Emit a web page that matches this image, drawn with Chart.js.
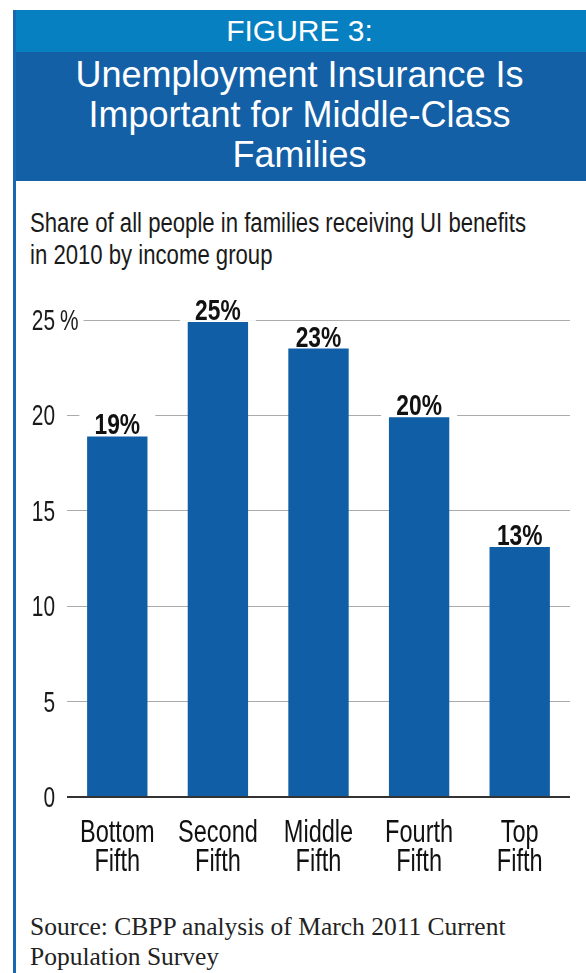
<!DOCTYPE html>
<html>
<head>
<meta charset="utf-8">
<title>Figure 3</title>
<script src="https://cdn.jsdelivr.net/npm/chart.js@4"></script>
<style>
  body { margin: 0; background: #fff; }
  #page { position: relative; width: 586px; height: 973px; overflow: hidden; }
  .abs { position: absolute; }
  #edge { left: 13px; top: 10px; width: 3px; height: 963px; background: #1a66b0; }
  #band1 { left: 13px; top: 10px; width: 573px; height: 42px; background: #0780c2; }
  #band2 { left: 13px; top: 52px; width: 573px; height: 129px; background: #1460a6; }
  #fig { left: 13px; top: 10px; width: 573px; text-align: center; color: #fff;
         font: 30px/42px "Liberation Sans", Arial, sans-serif; }
  #title { left: 13px; top: 55px; width: 573px; text-align: center; color: #fff;
           font: 36px/40px "Liberation Sans", Arial, sans-serif; }
  #sub { left: 30px; top: 207px; color: #1a1a1a; white-space: nowrap;
         transform: scaleX(0.82); transform-origin: 0 0;
         font: 27px/32px "Liberation Sans", Arial, sans-serif; }
  #src { left: 30px; top: 912px; color: #222; white-space: nowrap;
         font: 25.5px/30px "Liberation Serif", serif; }
  #wrap { left: 0; top: 280px; width: 586px; height: 600px; }
</style>
</head>
<body>
<div id="page">
  <div class="abs" id="band1"></div>
  <div class="abs" id="band2"></div>
  <div class="abs" id="edge"></div>
  <div class="abs" id="fig">FIGURE 3:</div>
  <div class="abs" id="title">Unemployment Insurance Is<br>Important for Middle-Class<br>Families</div>
  <div class="abs" id="sub">Share of all people in families receiving UI benefits<br>in 2010 by income group</div>
  <div class="abs" id="wrap"><canvas id="chart" width="586" height="600"></canvas></div>
  <div class="abs" id="src">Source: CBPP analysis of March 2011 Current<br>Population Survey</div>
</div>

<script>
  // data
  var categories = [['Bottom', 'Fifth'], ['Second', 'Fifth'], ['Middle', 'Fifth'], ['Fourth', 'Fifth'], ['Top', 'Fifth']];
  var shares = [18.9, 24.9, 23.5, 19.9, 13.1];
  var shareLabels = ['19%', '25%', '23%', '20%', '13%'];
  var yTickValues = [0, 5, 10, 15, 20, 25];
  var yTickLabels = ['0', '5', '10', '15', '20', '25%'];

  var sans = '"Liberation Sans", Arial, sans-serif';

  // no condensed face installed, so squeeze the text horizontally
  function squeezed(ctx, text, x, y, align, sx) {
    ctx.save();
    ctx.translate(x, y);
    ctx.scale(sx, 1);
    ctx.textAlign = align;
    ctx.fillText(text, 0, 0);
    ctx.restore();
  }

  // y axis labels: number right aligned, "%" hanging to the right
  var yLabels = {
    id: 'yLabels',
    afterDatasetsDraw: function (chart) {
      var ctx = chart.ctx, y = chart.scales.y, sx = 0.72;
      ctx.save();
      ctx.font = '29px ' + sans;
      ctx.textBaseline = 'middle';
      yTickValues.forEach(function (v, i) {
        var py = y.getPixelForValue(v) + 2;
        var lab = yTickLabels[i];
        var num = lab.replace('%', '');
        var right = 55;
        if (lab.indexOf('%') >= 0) {
          var w = ctx.measureText(num).width * sx;
          var pw = ctx.measureText('%').width * sx;
          ctx.fillStyle = '#fff';
          ctx.fillRect(right - w - 2, py - 15, w + pw + 12, 28);
          ctx.fillStyle = '#1a1a1a';
          squeezed(ctx, '%', right + 5, py, 'left', sx);
        }
        ctx.fillStyle = '#1a1a1a';
        squeezed(ctx, num, right, py, 'right', sx);
      });
      ctx.restore();
    }
  };

  // bold value labels on a white box above each bar
  var barLabels = {
    id: 'barLabels',
    afterDatasetsDraw: function (chart) {
      var ctx = chart.ctx;
      ctx.save();
      chart.getDatasetMeta(0).data.forEach(function (bar, i) {
        ctx.fillStyle = '#fff';
        ctx.fillRect(bar.x - 38, bar.y - 27, 76, 26);
        ctx.fillStyle = '#111';
        ctx.font = 'bold 30px ' + sans;
        ctx.textBaseline = 'alphabetic';
        squeezed(ctx, shareLabels[i], bar.x, bar.y - 2, 'center', 0.76);
      });
      ctx.restore();
    }
  };

  // category labels, two lines each, under the axis
  var xLabels = {
    id: 'xLabels',
    afterDraw: function (chart) {
      var ctx = chart.ctx, x = chart.scales.x, base = chart.chartArea.bottom;
      ctx.save();
      ctx.font = '31px ' + sans;
      ctx.fillStyle = '#111';
      ctx.textBaseline = 'alphabetic';
      categories.forEach(function (lines, i) {
        var px = x.getPixelForValue(i);
        lines.forEach(function (t, j) {
          squeezed(ctx, t, px, base + 45 + j * 29, 'center', 0.76);
        });
      });
      ctx.restore();
    }
  };

  new Chart(document.getElementById('chart'), {
    type: 'bar',
    data: {
      labels: categories,
      datasets: [{
        data: shares,
        backgroundColor: '#0f5ea6',
        categoryPercentage: 1,
        barPercentage: 0.6
      }]
    },
    options: {
      responsive: false,
      animation: false,
      layout: { padding: { top: 40, right: 16, left: 0, bottom: 0 } },
      plugins: { legend: { display: false }, tooltip: { enabled: false } },
      scales: {
        x: {
          grid: { display: false, drawTicks: false },
          border: { display: false },
          ticks: { display: false },
          afterFit: function (s) { s.height = 83; }
        },
        y: {
          min: 0,
          max: 25,
          ticks: { display: false, stepSize: 5 },
          border: { display: false },
          grid: {
            drawTicks: false,
            color: function (c) { return c.tick && c.tick.value === 0 ? '#333' : '#aaaaaa'; },
            lineWidth: function (c) { return c.tick && c.tick.value === 0 ? 2 : 1; }
          },
          afterFit: function (s) { s.width = 67; }
        }
      }
    },
    plugins: [yLabels, barLabels, xLabels]
  });
</script>
</body>
</html>
